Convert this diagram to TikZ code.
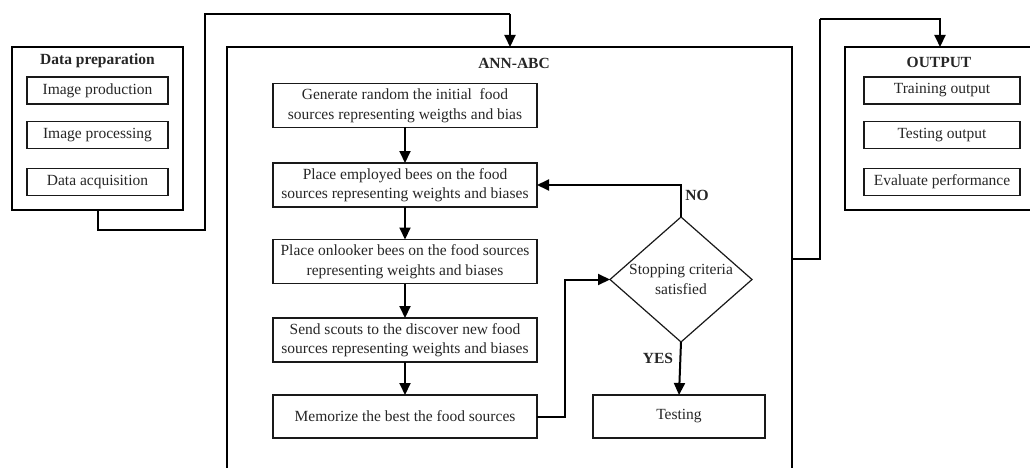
\documentclass[tikz,border=0pt]{standalone}
\usepackage{fontspec}
\setmainfont{Liberation Serif}
\usetikzlibrary{arrows.meta,shapes.geometric}
\begin{document}
\begin{tikzpicture}[x=1pt,y=-1pt,
  font=\fontsize{15.5}{19.5}\selectfont,
  every node/.style={text=black!85},
  outerbox/.style={draw=black, line width=2.8pt, rectangle, inner sep=0pt, outer sep=0pt},
  innerbox/.style={draw=black!90, line width=1.3pt, rectangle, inner sep=0pt, outer sep=0pt, minimum width=141pt, minimum height=27pt},
  flowbox/.style={draw=black!90, line width=1.3pt, rectangle, inner sep=0pt, outer sep=0pt, minimum width=264pt, minimum height=44pt, align=center},
  conn/.style={draw=black, line width=2pt},
  arr/.style={conn, -{Triangle[length=12pt,width=11pt]}},
  title/.style={font=\fontsize{15.5}{19.5}\selectfont\bfseries, inner sep=0pt},
]
\useasboundingbox (0,0) rectangle (1030,468);
\clip (0,0) rectangle (1030,468);
\fill[white] (0,0) rectangle (1030,468);

% Data preparation
\node[outerbox, minimum width=171pt, minimum height=163pt] (dp) at (97.5,128.5) {};
\node[title] (dpt) at (97.5,61) {Data preparation};
\node[innerbox] (ip) at (97.5,90.5) {Image production};
\node[innerbox] (ipr) at (97.5,135) {Image processing};
\node[innerbox] (da) at (97.5,182) {Data acquisition};

% ANN-ABC
\node[outerbox, minimum width=565pt, minimum height=424pt] (ann) at (509.5,259) {};
\node[title] (annt) at (514,63) {ANN-ABC};
\node[flowbox] (b1) at (405,105.5) {Generate random the initial\ \ food\\sources representing weigths and bias};
\node[flowbox] (b2) at (405,185) {Place employed bees on the food\\sources representing weights and biases};
\node[flowbox] (b3) at (405,261.5) {Place onlooker bees on the food sources\\representing weights and biases};
\node[flowbox] (b4) at (405,340) {Send scouts to the discover new food\\sources representing weights and biases};
\node[flowbox, minimum height=43pt] (b5) at (405,416.5) {Memorize the best the food sources};
\node[diamond, draw=black!90, line width=1.2pt, minimum width=142pt, minimum height=125pt, inner sep=0pt, outer sep=0pt] (d) at (681,279.5) {};
\node[align=center, inner sep=0pt] (dt) at (681,279.5) {Stopping criteria\\satisfied};
\node[flowbox, minimum width=172pt, minimum height=43pt] (test) at (679,416.5) {Testing};
\node[title] (no) at (697,195) {NO};
\node[title] (yes) at (658,358) {YES};

% OUTPUT
\node[outerbox, minimum width=190pt, minimum height=163pt] (out) at (940,128.5) {};
\node[title] (outt) at (939,62) {OUTPUT};
\node[innerbox, minimum width=156pt] (to) at (942,90.5) {Training output};
\node[innerbox, minimum width=156pt] (teo) at (942,135) {Testing output};
\node[innerbox, minimum width=156pt] (ep) at (942,182) {Evaluate performance};

% connectors
\coordinate (c1) at (205,230);
\coordinate (c2) at (510,14);
\draw[conn] (dp.south) |- (c1) |- (c2);
\draw[arr] (c2) -- (c2 |- ann.north);

\coordinate (c3) at (820,19);
\draw[conn] (ann.east) -| (c3);
\draw[arr] (c3) -| (out.north);

\draw[arr] (b1) -- (b2);
\draw[arr] (b2) -- (b3);
\draw[arr] (b3) -- (b4);
\draw[arr] (b4) -- (b5);
\draw[arr] (b5.east) -- ++(28,0) |- (d.west);
\draw[arr] (d.north) |- (b2.east);
\draw[arr] (d.south) -- (test.north);
\end{tikzpicture}
\end{document}
